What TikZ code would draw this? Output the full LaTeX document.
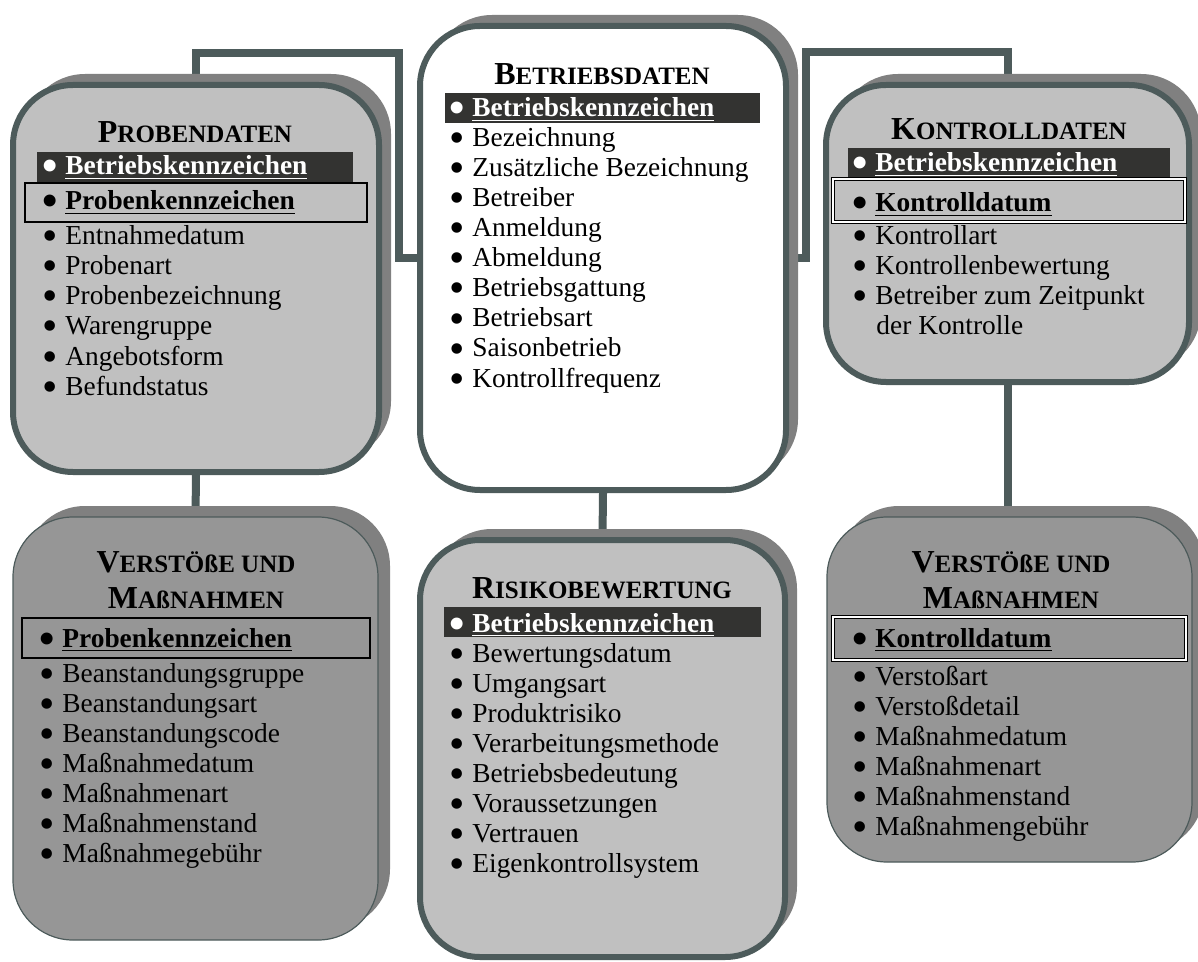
\documentclass[tikz,border=0pt]{standalone}
\usepackage{fontspec}
\setmainfont{Liberation Serif}
\usetikzlibrary{shadows,backgrounds}
\definecolor{frame}{HTML}{4D5B5B}
\definecolor{lightfill}{HTML}{C0C0C0}
\definecolor{darkfill}{HTML}{969696}
\definecolor{shade}{HTML}{808080}
\definecolor{keydark}{HTML}{333331}

\newcommand{\hd}[2]{{\fontsize{16}{18}\selectfont #1}{\fontsize{12.5}{14}\selectfont #2}}
\newcommand{\bul}{\makebox[11.5pt][l]{\raisebox{-3pt}[0pt][0pt]{\scalebox{1.6}{\textbullet}}}}

\begin{document}
\begin{tikzpicture}[x=0.5pt,y=-0.5pt,font=\fontsize{13.7}{15}\selectfont,
  panel/.style={rounded corners=30pt,draw=frame,line width=3pt,inner sep=0pt,
    drop shadow={shadow xshift=6pt,shadow yshift=5.5pt,opacity=1,fill=shade}},
  flat/.style={panel,line width=0.6pt,fill=darkfill},
  link/.style={draw=frame,line width=4pt},
  item/.style={anchor=base west,inner sep=0pt},
  keyitem/.style={item,execute at begin node=\bfseries},
  head/.style={anchor=base,inner sep=0pt,execute at begin node=\bfseries},
  keyframe/.style={draw=black,line width=1.3pt},
  keydouble/.style={draw=black,line width=0.5pt,double=white,double distance=0.8pt}]
  \useasboundingbox (0,0) rectangle (1198,962);

  \node[panel,fill=lightfill,minimum width=183pt,minimum height=193.5pt] (probe) at (196,278.5) {};
  \node[panel,fill=white,minimum width=183pt,minimum height=232pt] (betrieb) at (603,258) {};
  \node[panel,fill=lightfill,minimum width=181.5pt,minimum height=148.5pt] (kontroll) at (1007.5,233.5) {};
  \node[flat,minimum width=182.5pt,minimum height=211.5pt] (verstL) at (195.5,728.5) {};
  \node[panel,fill=lightfill,minimum width=182.5pt,minimum height=208.5pt] (risk) at (602.5,748.5) {};
  \node[flat,minimum width=182.5pt,minimum height=172.5pt] (verstR) at (1009.5,689.5) {};

  \begin{scope}[on background layer]
    \coordinate (lbend) at (399,53);
    \coordinate (rbend) at (806,52);
    \draw[link] (probe.north) |- (lbend) |- (betrieb.west);
    \draw[link] (betrieb.east) -| (rbend) -| (kontroll.north);
    \draw[link] (probe.south) -- (verstL.north);
    \draw[link] (betrieb.south) -- (risk.north);
    \draw[link] (kontroll.south) -- (kontroll.south |- verstR.north);
  \end{scope}

  \node[head] (pd-head) at (195,143) {\hd{P}{ROBENDATEN}};
  \fill[keydark] (37,152) rectangle (353,182);
  \node[keyitem,text=white] (pd-key1) at (42,175) {\bul\underline{Betriebskennzeichen}};
  \draw[keyframe] (25,183) rectangle (367,222);
  \node[keyitem] (pd-key2) at (42,210) {\bul\underline{Probenkennzeichen}};
  \foreach \txt [count=\i] in {Entnahmedatum,Probenart,Probenbezeichnung,Warengruppe,Angebotsform,Befundstatus}
    \node[item] (pd-\i) at (42,{215+30*\i}) {\bul\txt};

  \node[head] (bd-head) at (602,85) {\hd{B}{ETRIEBSDATEN}};
  \fill[keydark] (445,93) rectangle (760,123);
  \node[keyitem,text=white] (bd-key) at (449,117) {\bul\underline{Betriebskennzeichen}};
  \foreach \txt [count=\i] in {Bezeichnung,Zusätzliche Bezeichnung,Betreiber,Anmeldung,Abmeldung,Betriebsgattung,Betriebsart,Saisonbetrieb,Kontrollfrequenz}
    \node[item] (bd-\i) at (449,{117+30*\i}) {\bul\txt};

  \node[head] (kd-head) at (1009,140) {\hd{K}{ONTROLLDATEN}};
  \fill[keydark] (848,148) rectangle (1170,177);
  \node[keyitem,text=white] (kd-key1) at (852,172) {\bul\underline{Betriebskennzeichen}};
  \draw[keydouble] (833,179) rectangle (1185,222);
  \node[keyitem] (kd-key2) at (852,212) {\bul\underline{Kontrolldatum}};
  \foreach \txt [count=\i] in {Kontrollart,Kontrollenbewertung,Betreiber zum Zeitpunkt}
    \node[item] (kd-\i) at (852,{215+30*\i}) {\bul\txt};
  \node[item] (kd-cont) at (876,335) {der Kontrolle};

  \node[head] (vl-head1) at (196,572) {\hd{V}{ERSTÖßE UND}};
  \node[head] (vl-head2) at (196,608) {\hd{M}{AßNAHMEN}};
  \draw[keyframe] (22,618) rectangle (370,658);
  \node[keyitem] (vl-key) at (39,647) {\bul\underline{Probenkennzeichen}};
  \foreach \txt [count=\i] in {Beanstandungsgruppe,Beanstandungsart,Beanstandungscode,Maßnahmedatum,Maßnahmenart,Maßnahmenstand,Maßnahmegebühr}
    \node[item] (vl-\i) at (39,{652+30*\i}) {\bul\txt};

  \node[head] (rb-head) at (602,598) {\hd{R}{ISIKOBEWERTUNG}};
  \fill[keydark] (444,607) rectangle (761,637);
  \node[keyitem,text=white] (rb-key) at (449,632) {\bul\underline{Betriebskennzeichen}};
  \foreach \txt [count=\i] in {Bewertungsdatum,Umgangsart,Produktrisiko,Verarbeitungsmethode,Betriebsbedeutung,Voraussetzungen,Vertrauen,Eigenkontrollsystem}
    \node[item] (rb-\i) at (449,{632+30*\i}) {\bul\txt};

  \node[head] (vr-head1) at (1011,572) {\hd{V}{ERSTÖßE UND}};
  \node[head] (vr-head2) at (1011,608) {\hd{M}{AßNAHMEN}};
  \draw[keydouble] (833,617) rectangle (1186,660);
  \node[keyitem] (vr-key) at (852,647) {\bul\underline{Kontrolldatum}};
  \foreach \txt [count=\i] in {Verstoßart,Verstoßdetail,Maßnahmedatum,Maßnahmenart,Maßnahmenstand,Maßnahmengebühr}
    \node[item] (vr-\i) at (852,{655+30*\i}) {\bul\txt};
\end{tikzpicture}
\end{document}
